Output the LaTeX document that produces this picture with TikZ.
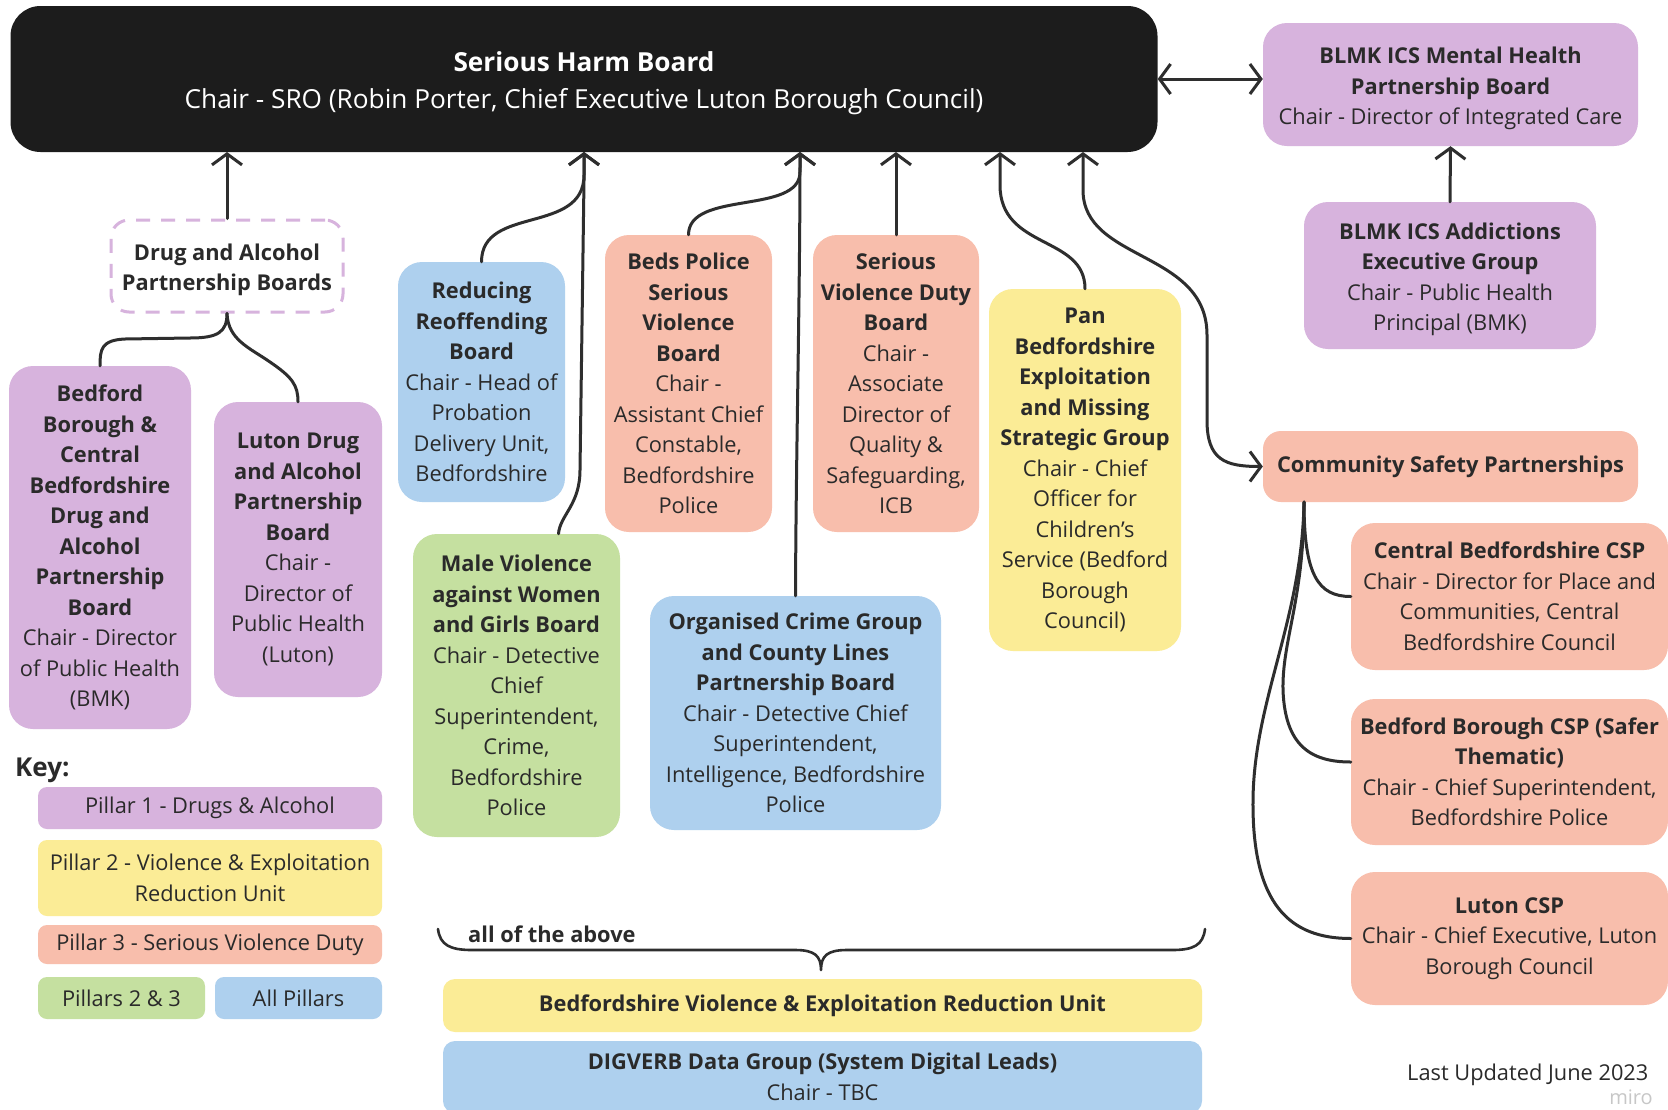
\documentclass[tikz,border=0pt]{standalone}
\usepackage{fontspec}
\setmainfont{Open Sans}
\usetikzlibrary{arrows.meta}
\definecolor{pur}{HTML}{D7B3DD}
\definecolor{yel}{HTML}{FBEC96}
\definecolor{sal}{HTML}{F8BEAC}
\definecolor{grn}{HTML}{C5E0A0}
\definecolor{blu}{HTML}{AED0EE}
\definecolor{blk}{HTML}{1C1C1C}
\definecolor{txt}{HTML}{2A2A2A}
\definecolor{ln}{HTML}{2E2E2E}
\newcommand{\hb}[1]{\textbf{#1}}
\newcommand{\myfs}{\fontsize{21.8}{30.5}\selectfont}
\newcommand{\bigfs}{\fontsize{26.2}{37}\selectfont}
\begin{document}
\begin{tikzpicture}[x=1pt,y=-1pt,
  box/.style={rounded corners=24pt, inner sep=0pt, align=center, font=\myfs, text=txt},
  keybox/.style={rounded corners=9pt, inner sep=0pt, align=center, font=\myfs, text=txt},
  conn/.style={draw=ln, line width=3pt, line cap=round, line join=round},
  arr/.style={conn, -{Straight Barb[length=11pt,width=30pt]}},
  arrs/.style={conn, {Straight Barb[length=11pt,width=30pt]}-{Straight Barb[length=11pt,width=30pt]}}]
\useasboundingbox[fill=white] (0,0) rectangle (1668,1109);

% top board
\node[box, rounded corners=30pt, fill=blk, text=white, font=\bigfs, minimum width=1147pt, minimum height=146pt] (shb) at (584,79)
  {\rule{0pt}{29pt}\hb{Serious Harm Board}\\Chair - SRO (Robin Porter, Chief Executive Luton Borough Council)};

% right column
\node[box, fill=pur, minimum width=375pt, minimum height=123pt] (mh) at (1450.5,84.5)
  {\rule{0pt}{25pt}\hb{BLMK ICS Mental Health}\\\hb{Partnership Board}\\Chair - Director of Integrated Care};
\node[box, fill=pur, minimum width=292pt, minimum height=147pt] (add) at (1450,275.5)
  {\rule{0pt}{24pt}\hb{BLMK ICS Addictions}\\\hb{Executive Group}\\Chair - Public Health\\Principal (BMK)};
\node[box, rounded corners=18pt, fill=sal, minimum width=375pt, minimum height=71pt] (csp) at (1450.5,466.5)
  {\hb{Community Safety Partnerships}};
\node[box, fill=sal, minimum width=317pt, minimum height=147pt] (cbc) at (1509.5,596.5)
  {\hb{Central Bedfordshire CSP}\\Chair - Director for Place and\\Communities, Central\\Bedfordshire Council};
\node[box, fill=sal, minimum width=317pt, minimum height=146pt] (bbc) at (1509.5,772)
  {\hb{Bedford Borough CSP (Safer}\\\hb{Thematic)}\\Chair - Chief Superintendent,\\Bedfordshire Police};
\node[box, fill=sal, minimum width=317pt, minimum height=133pt] (lcsp) at (1509.5,938.5)
  {\hb{Luton CSP}\\Chair - Chief Executive, Luton\\Borough Council};

% drug and alcohol
\node[box, rounded corners=18pt, draw=pur, line width=3pt, dash pattern=on 14pt off 11pt, minimum width=232pt, minimum height=92pt] (dapb) at (227,266)
  {\rule{0pt}{24pt}\hb{Drug and Alcohol}\\\hb{Partnership Boards}};
\node[box, fill=pur, minimum width=182pt, minimum height=363pt] (bbcb) at (100,547.5)
  {\hb{Bedford}\\\hb{Borough \&}\\\hb{Central}\\\hb{Bedfordshire}\\\hb{Drug and}\\\hb{Alcohol}\\\hb{Partnership}\\\hb{Board}\\Chair - Director\\of Public Health\\(BMK)};
\node[box, fill=pur, minimum width=168pt, minimum height=295pt] (ldap) at (298,549.5)
  {\hb{Luton Drug}\\\hb{and Alcohol}\\\hb{Partnership}\\\hb{Board}\\Chair -\\Director of\\Public Health\\(Luton)};

% middle boards
\node[box, fill=blu, minimum width=167pt, minimum height=240pt] (rrb) at (481.5,382)
  {\hb{Reducing}\\\hb{Reoffending}\\\hb{Board}\\Chair - Head of\\Probation\\Delivery Unit,\\Bedfordshire};
\node[box, fill=grn, minimum width=207pt, minimum height=303pt] (mv) at (516.5,685.5)
  {\hb{Male Violence}\\\hb{against Women}\\\hb{and Girls Board}\\Chair - Detective\\Chief\\Superintendent,\\Crime,\\Bedfordshire\\Police};
\node[box, fill=sal, minimum width=167pt, minimum height=297pt] (bps) at (688.5,383.5)
  {\hb{Beds Police}\\\hb{Serious}\\\hb{Violence}\\\hb{Board}\\Chair -\\Assistant Chief\\Constable,\\Bedfordshire\\Police};
\node[box, fill=blu, minimum width=291pt, minimum height=234pt] (ocg) at (795.5,713)
  {\hb{Organised Crime Group}\\\hb{and County Lines}\\\hb{Partnership Board}\\Chair - Detective Chief\\Superintendent,\\Intelligence, Bedfordshire\\Police};
\node[box, fill=sal, minimum width=166pt, minimum height=297pt] (svdb) at (896,383.5)
  {\hb{Serious}\\\hb{Violence Duty}\\\hb{Board}\\Chair -\\Associate\\Director of\\Quality \&\\Safeguarding,\\ICB};
\node[box, fill=yel, minimum width=192pt, minimum height=362pt] (pbe) at (1085,470)
  {\hb{Pan}\\\hb{Bedfordshire}\\\hb{Exploitation}\\\hb{and Missing}\\\hb{Strategic Group}\\Chair - Chief\\Officer for\\Children's\\Service (Bedford\\Borough\\Council)};

% key
\node[anchor=west, inner sep=0pt, font=\fontsize{26}{30}\selectfont\bfseries, text=txt] (key) at (15,770) {Key:};
\node[keybox, fill=pur, minimum width=344pt, minimum height=42pt] (p1) at (210,808) {Pillar 1 - Drugs \& Alcohol};
\node[keybox, fill=yel, minimum width=344pt, minimum height=76pt] (p2) at (210,878) {Pillar 2 - Violence \& Exploitation\\Reduction Unit};
\node[keybox, fill=sal, minimum width=344pt, minimum height=39pt] (p3) at (210,944.5) {Pillar 3 - Serious Violence Duty};
\node[keybox, fill=grn, minimum width=167pt, minimum height=42pt] (p23) at (121.5,998) {Pillars 2 \& 3};
\node[keybox, fill=blu, minimum width=167pt, minimum height=42pt] (pall) at (298.5,998) {All Pillars};

% bottom
\node[keybox, rounded corners=12pt, fill=yel, minimum width=759pt, minimum height=53pt] (veru) at (822.5,1005.5)
  {\hb{Bedfordshire Violence \& Exploitation Reduction Unit}};
\node[keybox, rounded corners=12pt, fill=blu, minimum width=759pt, minimum height=72pt] (dig) at (822.5,1077)
  {\hb{DIGVERB Data Group (System Digital Leads)}\\Chair - TBC};
\node[anchor=west, inner sep=0pt, font=\myfs\bfseries, text=txt] (allabove) at (468,934) {all of the above};
\node[anchor=west, inner sep=0pt, font=\myfs, text=txt] (upd) at (1407,1075) {Last Updated June 2023};
\node[inner sep=0pt, font=\fontsize{20}{22}\selectfont, text=black!22] (miro) at (1631,1097) {miro};

% anchor points on the Serious Harm Board
\coordinate (s1) at (227,152);
\coordinate (s2) at (584,152);
\coordinate (s3) at (800,152);
\coordinate (s4) at (896,152);
\coordinate (s5) at (1000,152);
\coordinate (s6) at (1083,152);

% connectors
\draw[arr] (dapb.north) -- (s1);
\draw[conn] (dapb.south) .. controls (227,332) and (218,338) .. (190,338) -- (125,339) .. controls (101,340) and (100,350) .. (bbcb.north);
\draw[conn] (dapb.south) .. controls (228,340) and (250,348) .. (270,362) .. controls (292,377) and (298,385) .. (ldap.north);
\draw[arr] (rrb.north) .. controls (481.5,205) and (584,235) .. (584,175) -- (s2);
\draw[arr] ([xshift=42pt]mv.north) .. controls (560,515) and (580,505) .. (580,470) -- (584,180) -- (s2);
\draw[arr] (bps.north) .. controls (688.5,190) and (800,215) .. (800,172) -- (s3);
\draw[arr] (ocg.north) .. controls (796,450) and (800,300) .. (s3);
\draw[arr] (svdb.north) -- (s4);
\draw[arr] (pbe.north) .. controls (1085,235) and (1000,250) .. (1000,185) -- (s5);
\draw[arrs] (s6) -- (1083,190) .. controls (1083,262) and (1207,250) .. (1207,335) -- (1207,420) .. controls (1207,460) and (1225,466.5) .. (csp.west);
\draw[arrs] (shb.east) -- (shb.east -| mh.west);
\draw[arr] (add.north) -- (mh.south);

\coordinate (cspb) at (1304,502);
\draw[conn] (cspb) .. controls (1304,575) and (1318,596.5) .. (cbc.west);
\draw[conn] (cspb) .. controls (1304,600) and (1282,640) .. (1283,690) .. controls (1285,745) and (1310,762) .. ([yshift=10pt]bbc.west);
\draw[conn] (cspb) .. controls (1302,620) and (1254,700) .. (1253,800) .. controls (1252,905) and (1290,938.5) .. (lcsp.west);

% brace
\coordinate (bl) at (438,929);
\coordinate (br) at (1205,929);
\coordinate (bt) at (821,970);
\draw[conn, line width=2.6pt] (bl) .. controls (440,945) and (450,950) .. (472,950) -- (795,950) .. controls (815,950) and (821,956) .. (bt)
  .. controls (821,956) and (827,950) .. (847,950) -- (1172,950) .. controls (1194,950) and (1203,945) .. (br);
\end{tikzpicture}
\end{document}
